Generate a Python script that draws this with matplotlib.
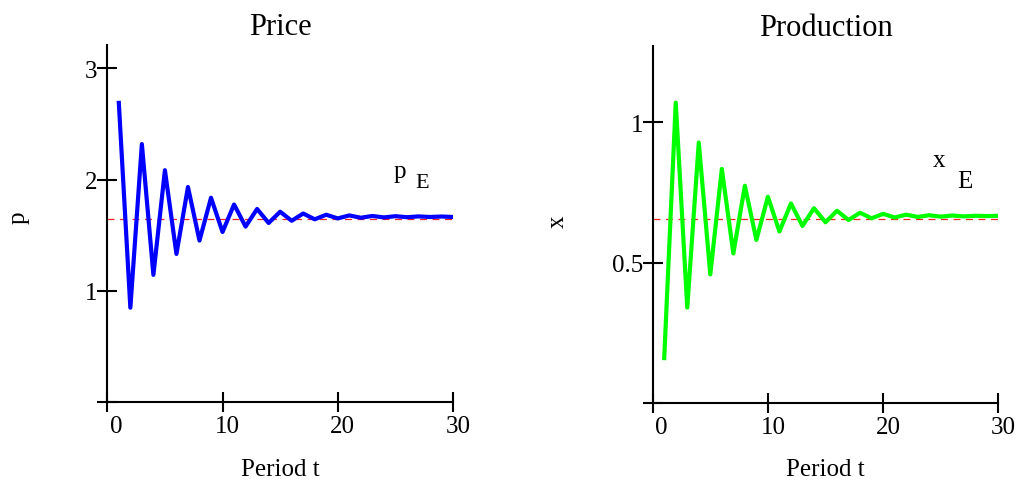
import matplotlib
matplotlib.use("Agg")
import matplotlib.pyplot as plt
from matplotlib.transforms import ScaledTranslation

# ---- data ----
periods = list(range(1, 31))
price = [2.69, 0.85, 2.32, 1.145, 2.085, 1.333, 1.934, 1.453, 1.838, 1.530,
         1.777, 1.579, 1.737, 1.611, 1.712, 1.631, 1.696, 1.644, 1.685, 1.652,
         1.679, 1.658, 1.674, 1.661, 1.672, 1.663, 1.670, 1.665, 1.669, 1.665]
production = [0.16, 1.07, 0.34, 0.928, 0.458, 0.834, 0.533, 0.774, 0.581, 0.735,
              0.611, 0.711, 0.631, 0.694, 0.644, 0.685, 0.652, 0.678, 0.658, 0.674,
              0.661, 0.671, 0.663, 0.669, 0.664, 0.668, 0.665, 0.667, 0.666, 0.667]
p_equilibrium = 1.65
x_equilibrium = 0.657
x_ticks = [0, 10, 20, 30]
price_yticks = [0, 1, 2, 3]
price_yticklabels = ["", "1", "2", "3"]
prod_yticks = [0, 0.5, 1]
prod_yticklabels = ["", "0.5", "1"]

plt.rcParams['font.family'] = ['Liberation Serif', 'DejaVu Serif']
plt.rcParams['lines.scale_dashes'] = False

W, H = 1018, 481
fig = plt.figure(figsize=(W / 100, H / 100), dpi=100)


def px_axes(x0, x1, ybot, ytop):
    return fig.add_axes([x0 / W, 1 - ybot / H, (x1 - x0) / W, (ybot - ytop) / H])


def style(ax, yticks, ylabels, ylim, title, ylab, ylab_xy):
    ax.set_xlim(0, 30)
    ax.set_ylim(*ylim)
    for s in ['top', 'right']:
        ax.spines[s].set_visible(False)
    for s in ['left', 'bottom']:
        ax.spines[s].set_linewidth(1.5)
        ax.spines[s].set_position(('data', 0))
    ax.set_xticks(x_ticks)
    ax.set_xticklabels([str(t) for t in x_ticks])
    ax.set_yticks(yticks)
    ax.set_yticklabels(ylabels)
    ax.tick_params(direction='inout', length=14, width=1.5, labelsize=18, pad=0)
    ax.tick_params(axis='x', pad=2)
    for i, lab in enumerate(ax.get_xticklabels()):
        dx = 9 if i == 0 else 5
        lab.set_transform(lab.get_transform() + ScaledTranslation(dx / 100, 0, fig.dpi_scale_trans))
    ax.set_title(title, fontsize=22, pad=8)
    ax.set_xlabel("Period t", fontsize=18)
    ax.xaxis.set_label_coords(0.5, -0.155)
    ax.set_ylabel(ylab, fontsize=18)
    ax.yaxis.set_label_coords(*ylab_xy)


# ---- Price ----
ax1 = px_axes(107.3, 453, 403.3, 46)
ax1.axhline(p_equilibrium, color='#ff2020', lw=0.9, dashes=(5, 4))
ax1.plot(periods, price, color='#0000ff', lw=3)
style(ax1, price_yticks, price_yticklabels, (0, 3.21), "Price", "p", (-0.224, 0.52))
ax1.text(24.8, 2.02, "p", fontsize=18, va='baseline', ha='left')
ax1.text(26.7, 1.93, "E", fontsize=16, va='baseline', ha='left')

# ---- Production ----
ax2 = px_axes(652.7, 998.3, 404, 47)
ax2.axhline(x_equilibrium, color='#ff2020', lw=0.9, dashes=(5, 4))
ax2.plot(periods, production, color='#00ff00', lw=3)
style(ax2, prod_yticks, prod_yticklabels, (0, 1.272), "Production", "x", (-0.242, 0.51))
ax2.text(24.3, 0.845, "x", fontsize=18, va='baseline', ha='left')
ax2.text(26.4, 0.77, "E", fontsize=18, va='baseline', ha='left')

fig.savefig("out.png", dpi=100)
